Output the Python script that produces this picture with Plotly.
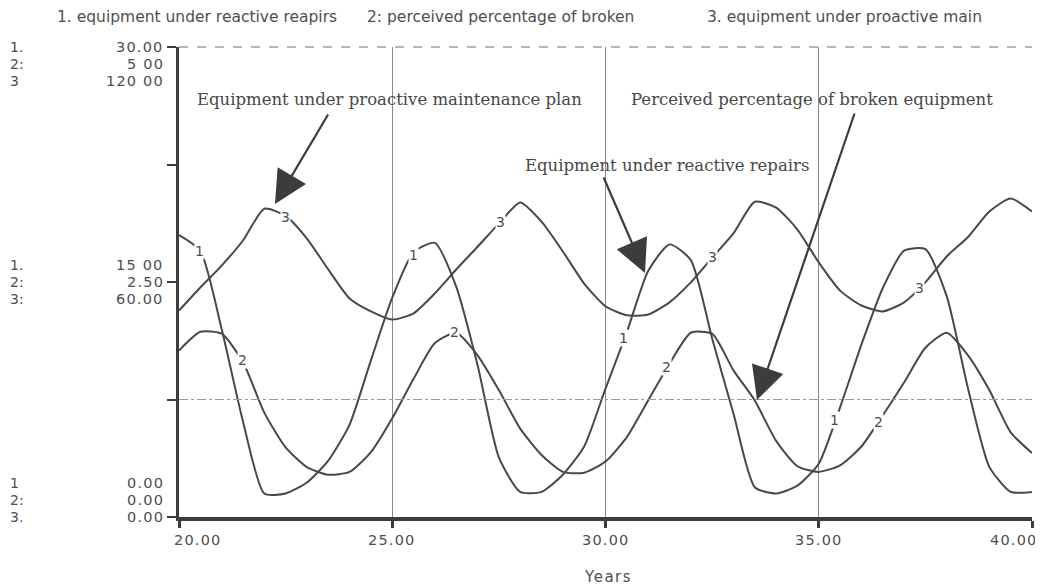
import plotly.graph_objects as go

# ---------------- data ----------------
years = [20.0, 20.5, 21.0, 21.5, 22.0, 22.5, 23.0, 23.5, 24.0, 24.5,
         25.0, 25.5, 26.0, 26.5, 27.0, 27.5, 28.0, 28.5, 29.0, 29.5,
         30.0, 30.5, 31.0, 31.5, 32.0, 32.5, 33.0, 33.5, 34.0, 34.5,
         35.0, 35.5, 36.0, 36.5, 37.0, 37.5, 38.0, 38.5, 39.0, 39.5, 40.0]

# 1. equipment under reactive repairs (scale 0-30)
reactive = [18.0, 17.0, 12.0, 6.1, 1.5, 1.5, 2.2, 3.6, 5.9, 10.0,
            14.0, 16.9, 17.5, 14.7, 9.7, 3.8, 1.6, 1.6, 2.7, 4.5,
            8.2, 11.8, 15.7, 17.4, 16.4, 11.4, 6.6, 1.9, 1.5, 2.0,
            3.4, 7.0, 11.0, 14.6, 17.0, 17.1, 14.1, 8.2, 3.2, 1.6, 1.6]

# 2. perceived percentage of broken equipment (scale 0-5)
perceived = [1.77, 1.97, 1.95, 1.65, 1.11, 0.74, 0.53, 0.45, 0.48, 0.69,
             1.05, 1.47, 1.85, 1.96, 1.72, 1.35, 0.94, 0.66, 0.48, 0.47,
             0.59, 0.85, 1.24, 1.63, 1.96, 1.95, 1.56, 1.24, 0.81, 0.54,
             0.48, 0.55, 0.75, 1.08, 1.43, 1.80, 1.96, 1.72, 1.35, 0.90, 0.68]

# 3. equipment under proactive maintenance plan (scale 0-120)
proactive = [52.7, 58.6, 64.2, 70.6, 78.7, 76.9, 71.1, 63.2, 55.8, 52.5,
             50.4, 52.0, 57.1, 63.2, 69.0, 74.9, 80.3, 75.4, 67.8, 59.6,
             53.8, 51.5, 51.7, 54.8, 59.9, 66.2, 72.4, 80.5, 79.0, 73.4,
             65.0, 57.8, 54.0, 52.5, 54.8, 59.9, 66.5, 71.5, 78.0, 81.3, 78.0]

x_ticks = [20, 25, 30, 35, 40]
x_tick_labels = ["20.00", "25.00", "30.00", "35.00", "40.00"]

legend_labels = ["1. equipment under reactive reapirs",
                 "2: perceived percentage of broken",
                 "3. equipment under proactive main"]

# y tick label groups (series number column, value column)
y_label_groups = [
    (["1.", "2:", "3"], ["30.00", "5 00", "120 00"]),
    (["1.", "2:", "3:"], ["15 00", "2.50", "60.00"]),
    (["1", "2:", "3."], ["0.00", "0.00", "0.00"]),
]

# ---------------- layout helpers (page pixel coordinates) ----------------
PAGE_W, PAGE_H = 1043, 588
OFF = 8                      # default body margin of the html page
L, R, T, B = 179, 1032, 47, 517   # plot area on the page
W, H = PAGE_W - OFF, PAGE_H - OFF


def xp(px):
    return (px - L) / (R - L)


def yp(py):
    return (B - py) / (B - T)


def spaced(s, sp):
    return '<span style="letter-spacing:%.1fpx">%s</span>' % (sp, s)


LINE = "#484848"
TXT = "#4e4e4e"
SANS = "DejaVu Sans, Liberation Sans, sans-serif"
SERIF = "DejaVu Serif, Liberation Serif, serif"

fig = go.Figure()
for yv, ax in [(reactive, "y"), (perceived, "y2"), (proactive, "y3")]:
    fig.add_trace(go.Scatter(x=years, y=yv, mode="lines", yaxis=ax,
                             line=dict(color=LINE, width=2, shape="spline", smoothing=0.6),
                             showlegend=False, hoverinfo="skip"))

annotations = []

# top legend line
for txt, px in zip(legend_labels, [55, 365, 705]):
    annotations.append(dict(text=txt, xref="paper", yref="paper", x=xp(px), y=yp(17),
                            xanchor="left", yanchor="middle", showarrow=False,
                            font=dict(family=SANS, size=15.5, color=TXT)))

# y tick labels (three stacked rows per tick)
row_pys = [[47, 64, 81], [265, 282, 299], [483, 500, 517]]
for (nums, vals), pys in zip(y_label_groups, row_pys):
    for n, v, py in zip(nums, vals, pys):
        annotations.append(dict(text=n, xref="paper", yref="paper", x=xp(8), y=yp(py),
                                xanchor="left", yanchor="middle", showarrow=False,
                                font=dict(family=SANS, size=14, color=TXT)))
        annotations.append(dict(text=spaced(v, 1.2), xref="paper", yref="paper",
                                x=xp(166), y=yp(py),
                                xanchor="right", yanchor="middle", showarrow=False,
                                font=dict(family=SANS, size=14.5, color=TXT)))

# x tick labels
x_anchor = ["left", "center", "center", "center", "right"]
x_shifts = [-7, 0, 0, 0, 8]
for v, lab, anc, sh in zip(x_ticks, x_tick_labels, x_anchor, x_shifts):
    annotations.append(dict(text=spaced(lab, 1.2), xref="x", yref="paper", x=v, y=yp(540),
                            xanchor=anc, yanchor="middle", xshift=sh, showarrow=False,
                            font=dict(family=SANS, size=14.5, color=TXT)))
annotations.append(dict(text=spaced("Years", 1.5), xref="paper", yref="paper",
                        x=xp(608), y=yp(577),
                        xanchor="center", yanchor="middle", showarrow=False,
                        font=dict(family=SANS, size=15, color=TXT)))

# callout texts
callouts = [("Equipment under proactive maintenance plan", 389, 99),
            ("Perceived percentage of broken equipment", 812, 99),
            ("Equipment under reactive repairs", 667, 165)]
for txt, px, py in callouts:
    annotations.append(dict(text=txt, xref="paper", yref="paper", x=xp(px), y=yp(py),
                            xanchor="center", yanchor="middle", showarrow=False,
                            font=dict(family=SERIF, size=16.5, color="#474747")))

# arrows (tip on the page, tail offset in px)
arrows = [((275, 204), (54, -91)),
          ((645, 273), (-42, -97)),
          ((757, 400), (98, -288))]
for (tx, ty), (ax, ay) in arrows:
    annotations.append(dict(text="", xref="paper", yref="paper", x=xp(tx), y=yp(ty),
                            ax=ax, ay=ay, showarrow=True, arrowhead=2, arrowsize=3.0,
                            arrowwidth=2.2, arrowcolor="#3c3c3c"))

# curve number labels
curve_labels = [("3", "y3", [(22.49, 76.6), (27.53, 75.3), (32.50, 66.4), (37.37, 58.5)]),
                ("2", "y2", [(21.48, 1.67), (26.47, 1.97), (31.44, 1.60), (36.39, 1.01)]),
                ("1", "y", [(20.49, 17.0), (25.49, 16.7), (30.43, 11.4), (35.38, 6.2)])]
for lab, yr, pts in curve_labels:
    for tx, ty in pts:
        annotations.append(dict(text=lab, xref="x", yref=yr, x=tx, y=ty, showarrow=False,
                                bgcolor="white", borderpad=0,
                                font=dict(family=SANS, size=14, color=TXT)))

shapes = [
    # top border (light dashed)
    dict(type="line", xref="paper", yref="paper", x0=0, x1=1, y0=1, y1=1,
         line=dict(color="#a0a0a0", width=1.5, dash="dash")),
    # quarter horizontal grid line
    dict(type="line", xref="paper", yref="y", x0=0, x1=1, y0=7.5, y1=7.5,
         line=dict(color="#9a9a9a", width=1, dash="dashdot")),
]

fig.update_layout(
    width=W, height=H,
    margin=dict(l=L - OFF, r=PAGE_W - R, t=T - OFF, b=PAGE_H - B),
    paper_bgcolor="white", plot_bgcolor="white",
    showlegend=False,
    xaxis=dict(range=[20, 40], tickvals=x_ticks, showticklabels=False,
               showgrid=True, gridcolor="#8a8a8a", gridwidth=1, zeroline=False,
               showline=True, linecolor="#3c3c3c", linewidth=4,
               ticks="outside", ticklen=7, tickwidth=3, tickcolor="#3c3c3c"),
    yaxis=dict(range=[0, 30], tickvals=[0, 7.5, 15, 22.5, 30], showticklabels=False,
               showgrid=False, zeroline=False,
               showline=True, linecolor="#3c3c3c", linewidth=3,
               ticks="outside", ticklen=9, tickwidth=2, tickcolor="#3c3c3c"),
    yaxis2=dict(range=[0, 5], overlaying="y", visible=False),
    yaxis3=dict(range=[0, 120], overlaying="y", visible=False),
    annotations=annotations,
    shapes=shapes,
)

fig.write_html("out.html")
